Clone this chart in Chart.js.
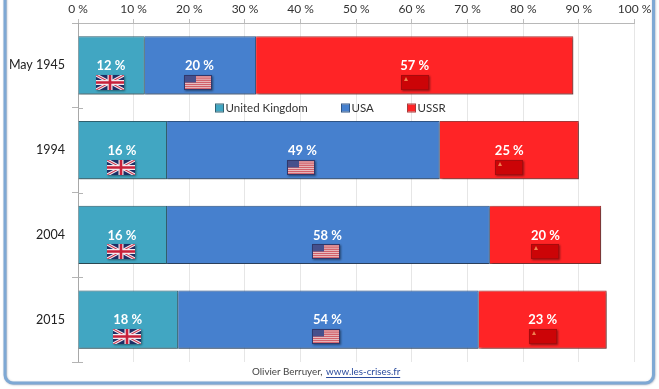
<!DOCTYPE html>
<html>
<head>
<meta charset="utf-8">
<style>html,body{margin:0;padding:0;background:#fff}#w{width:659px;height:389px}</style>
<script src="https://cdn.jsdelivr.net/npm/chart.js@4"></script>
</head>
<body>
<div id="w"><canvas id="c" width="659" height="389"></canvas></div>
<script>
const categories = ["May 1945", "1994", "2004", "2015"];
const ukValues = [12, 16, 16, 18];
const usaValues = [20, 49, 58, 54];
const ussrValues = [57, 25, 20, 23];
const seriesNames = ["United Kingdom", "USA", "USSR"];
const seriesColors = ["#41A6C2", "#4680CE", "#FF2426"];
const seriesBorders = ["#2F6272", "#2F5587", "#A83A3A"];
const footerAuthor = "Olivier Berruyer, ";
const footerLink = "www.les-crises.fr";
const FONT = "Lato, Carlito, 'Open Sans', sans-serif";

function drawFlag(ctx, kind, cx, cy) {
  const w = 28, h = 15, x = Math.round(cx - w / 2), y = Math.round(cy - h / 2);
  ctx.save();
  ctx.shadowColor = "rgba(0,0,0,0.45)";
  ctx.shadowBlur = 2; ctx.shadowOffsetX = 1; ctx.shadowOffsetY = 1;
  if (kind === 0) {
    ctx.fillStyle = "#1E2F66"; ctx.fillRect(x, y, w, h);
    ctx.shadowColor = "transparent";
    ctx.beginPath(); ctx.rect(x, y, w, h); ctx.clip();
    ctx.strokeStyle = "#F3E9EE"; ctx.lineWidth = 3.2;
    ctx.beginPath(); ctx.moveTo(x, y); ctx.lineTo(x + w, y + h); ctx.moveTo(x + w, y); ctx.lineTo(x, y + h); ctx.stroke();
    ctx.strokeStyle = "#C8304A"; ctx.lineWidth = 1.1; ctx.stroke();
    ctx.strokeStyle = "#F3E9EE"; ctx.lineWidth = 5;
    ctx.beginPath(); ctx.moveTo(x + w / 2, y); ctx.lineTo(x + w / 2, y + h); ctx.moveTo(x, y + h / 2); ctx.lineTo(x + w, y + h / 2); ctx.stroke();
    ctx.strokeStyle = "#C8203A"; ctx.lineWidth = 2.6; ctx.stroke();
  } else if (kind === 1) {
    ctx.fillStyle = "#F2E6E6"; ctx.fillRect(x, y, w, h);
    ctx.shadowColor = "transparent";
    ctx.fillStyle = "#D2606A";
    for (let i = 0; i < 7; i++) ctx.fillRect(x, y + i * h / 7 + 0.2, w, h / 14 + 0.4);
    ctx.fillStyle = "#46508C"; ctx.fillRect(x, y, 12, 7.5);
    ctx.strokeStyle = "#30386C"; ctx.lineWidth = 1; ctx.strokeRect(x + 0.5, y + 0.5, w - 1, h - 1);
  } else {
    ctx.fillStyle = "#CC0407"; ctx.fillRect(x, y, w, h);
    ctx.shadowColor = "transparent";
    ctx.strokeStyle = "#A80A0C"; ctx.lineWidth = 1; ctx.strokeRect(x + 0.5, y + 0.5, w - 1, h - 1);
    ctx.fillStyle = "#F08050";
    ctx.beginPath(); ctx.moveTo(x + 5, y + 2); ctx.lineTo(x + 7, y + 6); ctx.lineTo(x + 3, y + 6); ctx.closePath(); ctx.fill();
  }
  ctx.restore();
}

const flagShift = [-1.5, -2, 0];

const decor = {
  id: "decor",
  beforeDraw(chart) {
    const c = chart.ctx;
    c.save();
    c.fillStyle = "#fff"; c.fillRect(0, 0, 659, 389);
    c.shadowColor = "rgba(60,80,110,0.45)"; c.shadowBlur = 2; c.shadowOffsetX = 0.5; c.shadowOffsetY = 0.5;
    c.strokeStyle = "#7EA8D4"; c.lineWidth = 3;
    c.beginPath(); c.roundRect(5, -30, 648.5, 413, 8); c.stroke();
    c.restore();
  },
  beforeDatasetDraw(chart, args) {
    const c = chart.ctx;
    c.save();
    c.shadowColor = "rgba(40,40,40,0.5)";
    c.shadowBlur = 2;
    c.shadowOffsetX = args.index === 2 ? 2 : 0;
    c.shadowOffsetY = 1.5;
  },
  afterDatasetDraw(chart) { chart.ctx.restore(); },
  afterDatasetsDraw(chart) {
    const c = chart.ctx, xs = chart.scales.x, ys = chart.scales.y;
    c.save();
    c.strokeStyle = "#B4B4B4"; c.lineWidth = 1;
    for (let i = 1; i <= categories.length; i++) {
      const py = Math.round(ys.getPixelForValue(i - 0.5)) + 0.5;
      c.beginPath(); c.moveTo(xs.left, py); c.lineTo(xs.left + 5, py); c.stroke();
    }
    chart.data.datasets.forEach((ds, di) => {
      const meta = chart.getDatasetMeta(di);
      meta.data.forEach((bar, i) => {
        const cx = (bar.x + bar.base) / 2;
        c.fillStyle = "#FFFFFF";
        c.font = "bold 13px " + FONT;
        c.textAlign = "center"; c.textBaseline = "middle";
        c.fillText(ds.data[i] + " %", cx + flagShift[di] / 2, bar.y + 0.5);
        drawFlag(c, di, cx + flagShift[di], bar.y + 17);
      });
    });
    // legend
    c.font = "11.5px " + FONT; c.textAlign = "left"; c.textBaseline = "middle";
    const legendY = 108; let lx = 216;
    seriesNames.forEach((n, i) => {
      c.fillStyle = seriesColors[i]; c.fillRect(lx, legendY - 3.5, 7, 7);
      c.strokeStyle = seriesBorders[i]; c.lineWidth = 1; c.strokeRect(lx - 0.5, legendY - 4, 8, 8);
      c.fillStyle = "#333";
      c.fillText(n, lx + 9.5, legendY);
      lx += [126, 66][i] || 0;
    });
    // footer
    c.font = "9.8px " + FONT; c.fillStyle = "#444";
    c.fillText(footerAuthor, 252, 372);
    const ax = 252 + c.measureText(footerAuthor).width + 1;
    c.fillStyle = "#2B4C9E"; c.fillText(footerLink, ax, 372);
    const lw = c.measureText(footerLink).width;
    c.strokeStyle = "#2B4C9E"; c.lineWidth = 1;
    c.beginPath(); c.moveTo(ax, 377.5); c.lineTo(ax + lw, 377.5); c.stroke();
    c.restore();
  }
};

new Chart(document.getElementById("c"), {
  type: "bar",
  data: {
    labels: categories,
    datasets: [ukValues, usaValues, ussrValues].map((d, i) => ({
      label: seriesNames[i],
      data: d,
      backgroundColor: seriesColors[i],
      borderColor: seriesBorders[i],
      borderWidth: 1,
      categoryPercentage: 1,
      barPercentage: 0.69
    }))
  },
  options: {
    indexAxis: "y",
    responsive: false,
    animation: false,
    layout: { padding: { left: 0, right: 24.5, top: 0, bottom: 27 } },
    plugins: { legend: { display: false }, tooltip: { enabled: false }, title: { display: false } },
    scales: {
      x: {
        position: "top", stacked: true, min: 0, max: 100,
        afterFit(s) { s.height = 23; },
        grid: { color: "#E6E6E6", tickColor: "#BDBDBD", tickLength: 4 },
        border: { color: "#B8B8B8" },
        ticks: { stepSize: 10, maxRotation: 0, padding: 3, color: "#333", font: { family: FONT, size: 12 }, callback: v => v + " %" }
      },
      y: {
        stacked: true,
        afterFit(s) { s.width = 78; },
        grid: {
          offset: true, tickLength: 6, tickColor: "#B4B4B4",
          color: ctx => (ctx.index === categories.length ? "#E2E2E2" : "rgba(0,0,0,0)")
        },
        border: { color: "#A8A8A8" },
        ticks: { padding: 7, color: "#222", font: { family: FONT, size: 12.5 } }
      }
    }
  },
  plugins: [decor]
});
</script>
</body>
</html>
